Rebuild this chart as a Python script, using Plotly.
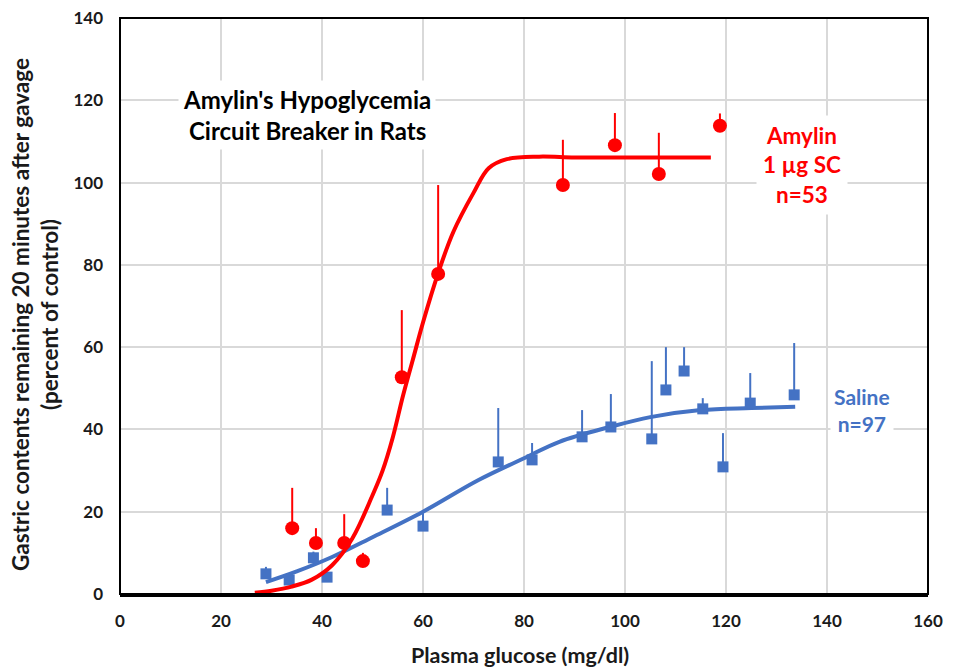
import plotly.graph_objects as go

# Amylin (red) data points
amylin_x = [34.1, 38.8, 44.4, 48.1, 55.8, 63.0, 87.7, 98.0, 106.7, 118.8]
amylin_y = [16.0, 12.4, 12.4, 8.0, 52.7, 77.8, 99.4, 109.1, 102.1, 113.8]
amylin_err = [9.8, 3.6, 7.0, 2.0, 16.3, 21.6, 11.0, 7.8, 10.0, 3.0]

# Amylin fitted curve
amylin_fit_x = [26.7, 30, 34, 38, 42, 46, 50, 52, 54, 56, 58, 60, 63, 66, 70, 73, 76.6, 83, 90, 100, 117]
amylin_fit_y = [0.3, 0.8, 1.8, 3.5, 7.0, 13.5, 24, 30, 38, 48, 57, 66, 78, 88, 97.5, 103.5, 105.7, 106.3, 106.1, 106.1, 106.1]

# Saline (blue) data points
saline_x = [28.9, 33.5, 38.3, 41.0, 52.9, 60.0, 74.9, 81.6, 91.5, 97.2, 105.3, 108.1, 111.7, 115.4, 119.4, 124.8, 133.5]
saline_y = [4.9, 3.4, 8.8, 4.1, 20.4, 16.5, 32.1, 32.6, 38.2, 40.6, 37.7, 49.6, 54.2, 45.0, 30.9, 46.4, 48.4]
saline_err = [1.7, 0.5, 1.5, 0.5, 5.4, 3.2, 13.1, 4.1, 6.5, 8.0, 18.9, 10.4, 5.8, 2.6, 8.2, 7.3, 12.6]

# Saline fitted curve
saline_fit_x = [28.9, 35, 42, 50, 60, 71, 80, 87, 97, 105, 115, 125, 133.7]
saline_fit_y = [2.9, 5.5, 9.0, 13.8, 20.0, 27.7, 33.0, 37.0, 40.6, 43.0, 44.7, 45.2, 45.5]

x_ticks = [0, 20, 40, 60, 80, 100, 120, 140, 160]
y_ticks = [0, 20, 40, 60, 80, 100, 120, 140]

RED = "#FF0000"
BLUE = "#4472C4"
FONT = "Lato"
TXT = "#1a1a1a"

# page body has an 8px margin, so the figure is sized/offset to compensate
ML, MT, MR, MB = 112, 10, 26, 77
W, H = 946, 663
PW = W - ML - MR
PH = H - MT - MB

fig = go.Figure()

fig.add_trace(go.Scatter(
    x=saline_fit_x, y=saline_fit_y, mode="lines",
    line=dict(color=BLUE, width=4, shape="spline"), hoverinfo="skip"))
fig.add_trace(go.Scatter(
    x=saline_x, y=saline_y, mode="markers",
    marker=dict(symbol="square", size=11, color=BLUE),
    error_y=dict(type="data", array=saline_err, arrayminus=[0] * len(saline_err),
                 symmetric=False, color=BLUE, thickness=2, width=0)))

fig.add_trace(go.Scatter(
    x=amylin_fit_x, y=amylin_fit_y, mode="lines",
    line=dict(color=RED, width=4, shape="spline"), hoverinfo="skip"))
fig.add_trace(go.Scatter(
    x=amylin_x, y=amylin_y, mode="markers",
    marker=dict(symbol="circle", size=14, color=RED),
    error_y=dict(type="data", array=amylin_err, arrayminus=[0] * len(amylin_err),
                 symmetric=False, color=RED, thickness=2, width=0)))

fig.update_layout(
    width=W, height=H,
    margin=dict(l=ML, r=MR, t=MT, b=MB, autoexpand=False),
    paper_bgcolor="white", plot_bgcolor="white",
    showlegend=False,
    font=dict(family=FONT, color=TXT),
    xaxis=dict(range=[0, 160], tickvals=x_ticks, ticktext=[f"<b>{v}</b>" for v in x_ticks],
               showgrid=True, gridcolor="#D9D9D9", gridwidth=1.5,
               showline=True, linecolor="black", linewidth=3, mirror=False,
               ticks="", zeroline=False, automargin=False, ticklabelstandoff=10,
               ticklabeloverflow="allow",
               tickfont=dict(family=FONT, size=17, color=TXT)),
    yaxis=dict(range=[0, 140], tickvals=y_ticks, ticktext=[f"<b>{v}</b>" for v in y_ticks],
               showgrid=True, gridcolor="#D9D9D9", gridwidth=1.5,
               showline=False, ticks="", zeroline=False, automargin=False,
               ticklabelstandoff=16, ticklabeloverflow="allow",
               tickfont=dict(family=FONT, size=17, color=TXT)),
    shapes=[dict(type="rect", xref="paper", yref="paper", x0=0, x1=1, y0=0, y1=1,
                 line=dict(color="black", width=2), layer="above")],
)

annotations = [
    dict(text="<b>Amylin's Hypoglycemia<br>Circuit Breaker in Rats</b>",
         x=37.0, y=116.5, xref="x", yref="y", showarrow=False,
         font=dict(family=FONT, size=24, color="black"), bgcolor="white",
         align="center", borderpad=4),
    dict(text="<b>Amylin<br>1 µg SC<br>n=53</b>",
         x=135.0, y=104.3, xref="x", yref="y", showarrow=False,
         font=dict(family=FONT, size=22.5, color=RED), bgcolor="white",
         align="center", borderpad=6),
    dict(text="<b>Saline<br>n=97</b>",
         x=147, y=44.7, xref="x", yref="y", showarrow=False,
         font=dict(family=FONT, size=21, color=BLUE), bgcolor="white",
         align="center", borderpad=3),
    dict(text="<b>Plasma glucose (mg/dl)</b>",
         x=(520 - 8 - ML) / PW, y=-61 / PH, xref="paper", yref="paper", showarrow=False,
         xanchor="center", yanchor="middle", borderpad=0,
         font=dict(family=FONT, size=21.5, color=TXT)),
    dict(text="<b>Gastric contents remaining 20 minutes after gavage<br>(percent of control)</b>",
         x=(27 - ML) / PW, y=1 - (307 - MT) / PH, xref="paper", yref="paper", showarrow=False,
         textangle=-90, xanchor="center", yanchor="middle",
         font=dict(family=FONT, size=22.5, color=TXT)),
]
fig.update_layout(annotations=annotations)

fig.write_html("out.html")
